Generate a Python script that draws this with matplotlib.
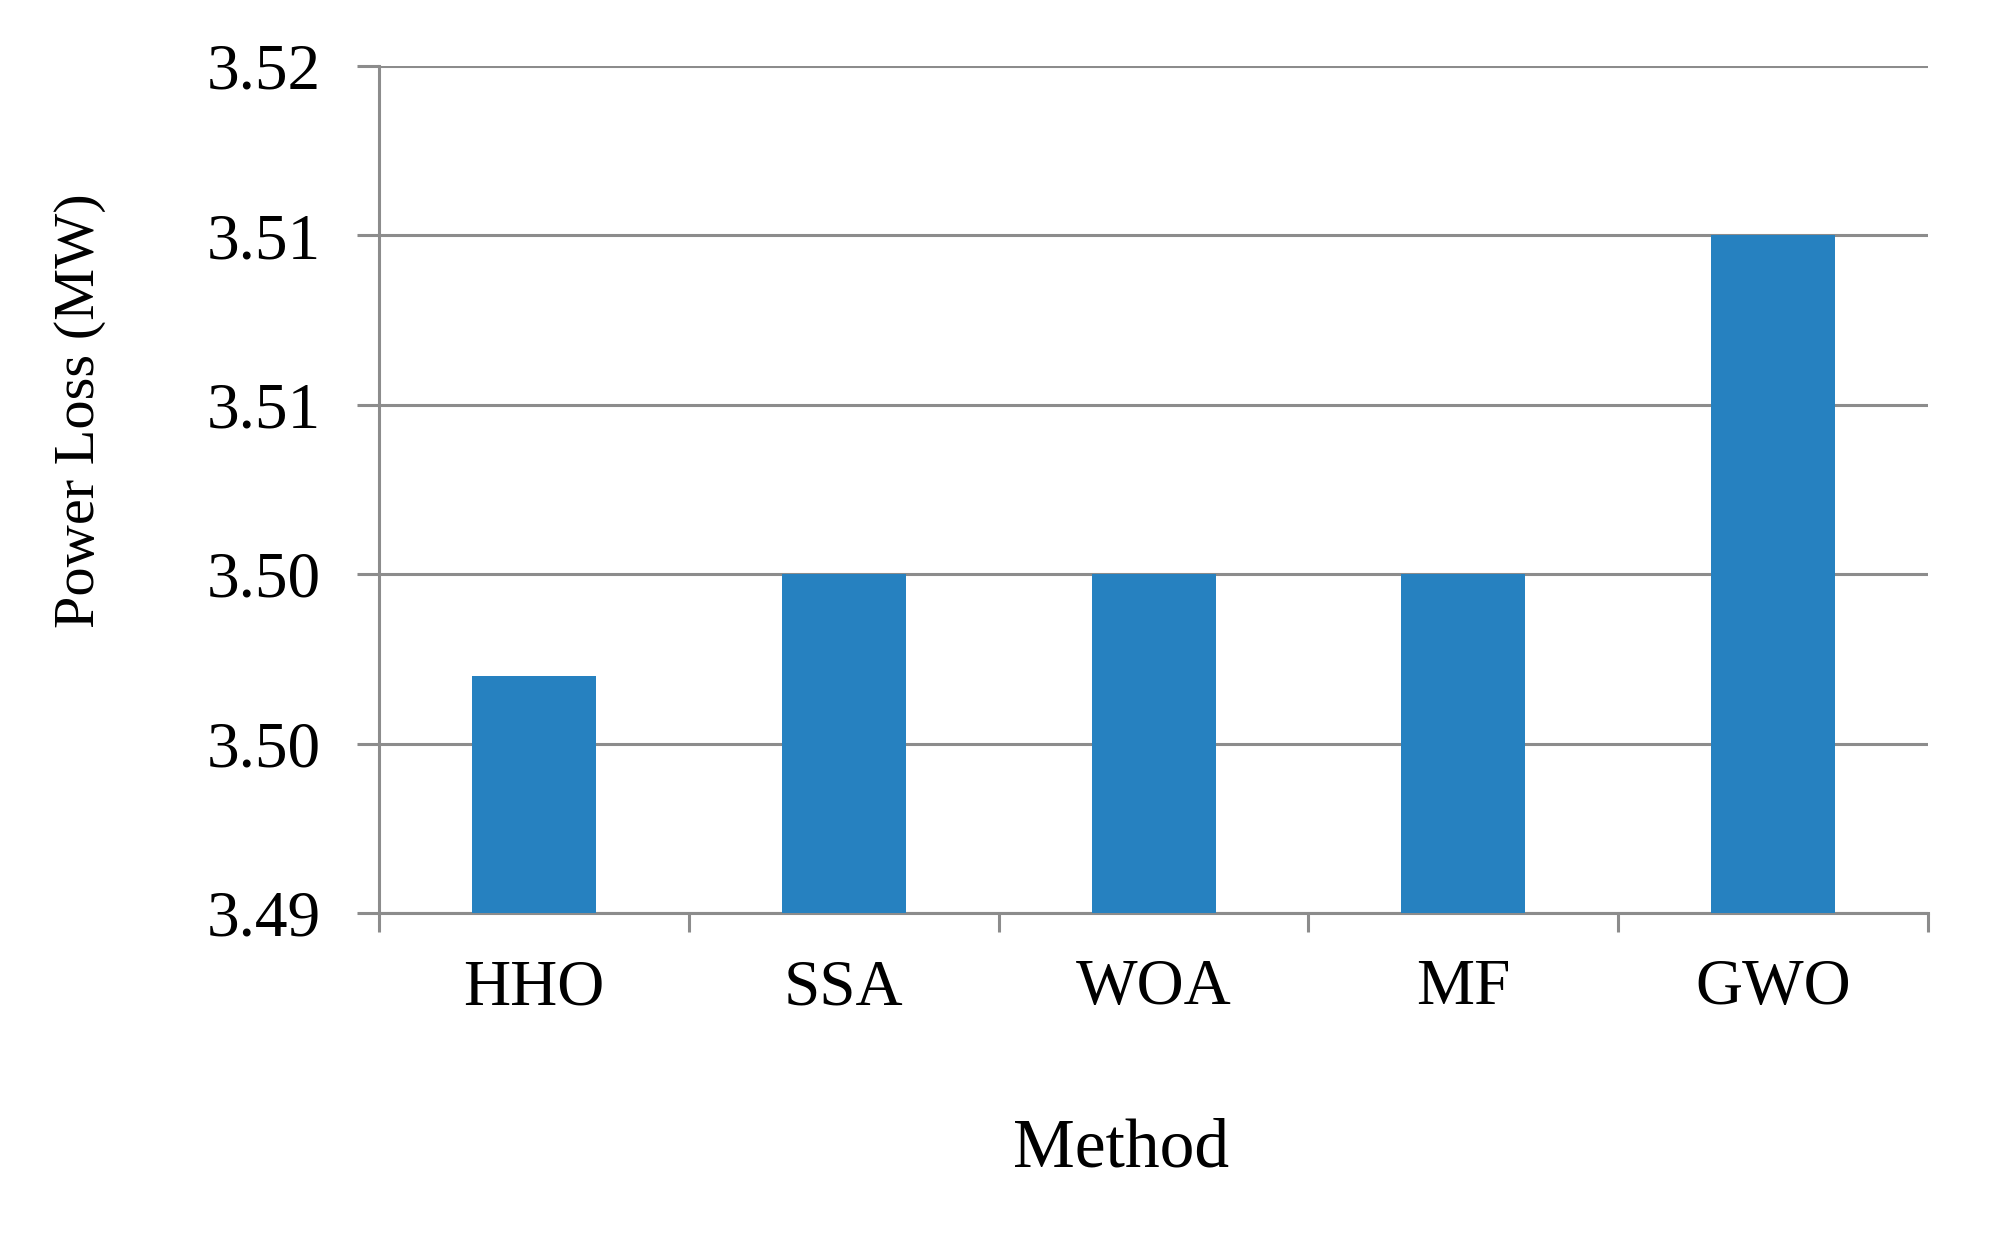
import matplotlib.pyplot as plt
import numpy as np
from matplotlib.ticker import FixedLocator, NullFormatter

# data
methods = ["HHO", "SSA", "WOA", "MF", "GWO"]
power_loss = [3.4984, 3.5020, 3.5020, 3.5020, 3.5140]
y_ticks = [3.490, 3.496, 3.502, 3.508, 3.514, 3.520]

plt.rcParams["font.family"] = ["Liberation Serif", "DejaVu Serif"]

fig = plt.figure(figsize=(19.91, 12.33), dpi=100)
ax = fig.add_axes([0.1904, 0.2595, 0.7780, 0.6870])

x = np.arange(len(methods))
ax.bar(x, power_loss, width=0.4, color="#2681c0", zorder=3)

ax.set_ylim(3.49, 3.52)
ax.set_xlim(-0.5, len(methods) - 0.5)
ax.set_yticks(y_ticks)
ax.set_yticklabels([f"{v:.2f}" for v in y_ticks])
ax.yaxis.grid(True, color="#8c8c8c", linewidth=2.2, zorder=0)
ax.set_axisbelow(True)

# category separators as major ticks, labels on minor ticks
ax.xaxis.set_major_locator(FixedLocator(np.arange(-0.5, len(methods), 1.0)))
ax.xaxis.set_major_formatter(NullFormatter())
ax.xaxis.set_minor_locator(FixedLocator(x))
ax.set_xticklabels(methods, minor=True)
ax.tick_params(axis="x", which="major", length=14, width=2.2, color="#8c8c8c")
ax.tick_params(axis="x", which="minor", length=0, pad=33, labelsize=47)
ax.tick_params(axis="y", length=16, width=2.2, color="#8c8c8c", pad=26, labelsize=47)

for s in ["top", "right"]:
    ax.spines[s].set_visible(False)
for s in ["left", "bottom"]:
    ax.spines[s].set_color("#8c8c8c")
    ax.spines[s].set_linewidth(2.2)

fig.text(0.040, 1 - 411 / 1233, "Power Loss (MW)", rotation=90,
         ha="center", va="center", fontsize=42)
fig.text(0.563, 1 - 1150 / 1233, "Method", ha="center", va="center", fontsize=50)

fig.savefig("out.png", dpi=100)
